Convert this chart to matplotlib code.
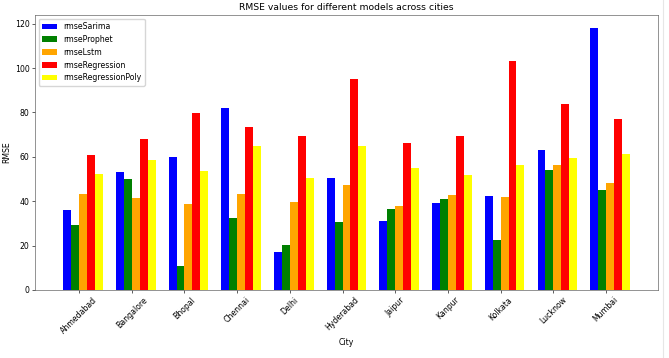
import numpy as np
import matplotlib
matplotlib.use("Agg")
import matplotlib.pyplot as plt

cities = ["Ahmedabad", "Bangalore", "Bhopal", "Chennai", "Delhi", "Hyderabad",
          "Jaipur", "Kanpur", "Kolkata", "Lucknow", "Mumbai"]

rmse_sarima = [36.1, 53.0, 59.9, 81.9, 17.0, 50.3, 31.0, 39.3, 42.3, 62.9, 118.0]
rmse_prophet = [29.5, 50.0, 11.0, 32.6, 20.2, 30.5, 36.4, 41.1, 22.3, 53.9, 45.1]
rmse_lstm = [43.2, 41.4, 38.7, 43.2, 39.6, 47.5, 37.9, 42.6, 42.0, 56.3, 48.0]
rmse_regression = [61.0, 67.9, 79.9, 73.6, 69.5, 95.3, 66.2, 69.2, 103.4, 84.0, 77.2]
rmse_regression_poly = [52.2, 58.7, 53.6, 65.1, 50.6, 64.7, 55.1, 51.9, 56.4, 59.7, 61.3]

series = [
    ("rmseSarima", rmse_sarima, "blue"),
    ("rmseProphet", rmse_prophet, "green"),
    ("rmseLstm", rmse_lstm, "orange"),
    ("rmseRegression", rmse_regression, "red"),
    ("rmseRegressionPoly", rmse_regression_poly, "yellow"),
]

# original was drawn larger and scaled down
s = 0.5575
plt.rcParams.update({'font.size': 10 * s, 'axes.linewidth': 0.8 * s,
                     'xtick.major.width': 0.8 * s, 'ytick.major.width': 0.8 * s,
                     'xtick.major.size': 3.5 * s, 'ytick.major.size': 3.5 * s,
                     'xtick.major.pad': 3.5 * s, 'ytick.major.pad': 3.5 * s})

fig, ax = plt.subplots(figsize=(6.69, 3.58), dpi=100)
plt.subplots_adjust(left=0.0523, right=0.9836, top=0.958, bottom=0.19)

index = np.arange(len(cities))
bar_width = 0.15
for k, (name, vals, color) in enumerate(series):
    ax.bar(index + k * bar_width, vals, bar_width, label=name, color=color)

ax.set_xticks(index + 1.5 * bar_width)
ax.set_xticklabels(cities, rotation=45)
ax.set_xlabel("City", labelpad=4 * s)
ax.set_ylabel("RMSE", labelpad=4 * s)
ax.set_title("RMSE values for different models across cities", fontsize=12 * s, pad=6 * s)
ax.legend(loc="upper left", handlelength=2 * s * 1.8, handleheight=0.7, borderpad=0.4,
          labelspacing=0.5, handletextpad=0.8)

for sp in ax.spines.values():
    sp.set_edgecolor("#555555")

fig.add_artist(plt.Line2D([663 / 669, 663 / 669], [0, 1], color="#e6e6e6", lw=0.8,
                          transform=fig.transFigure))

fig.savefig("out.png", dpi=100)
